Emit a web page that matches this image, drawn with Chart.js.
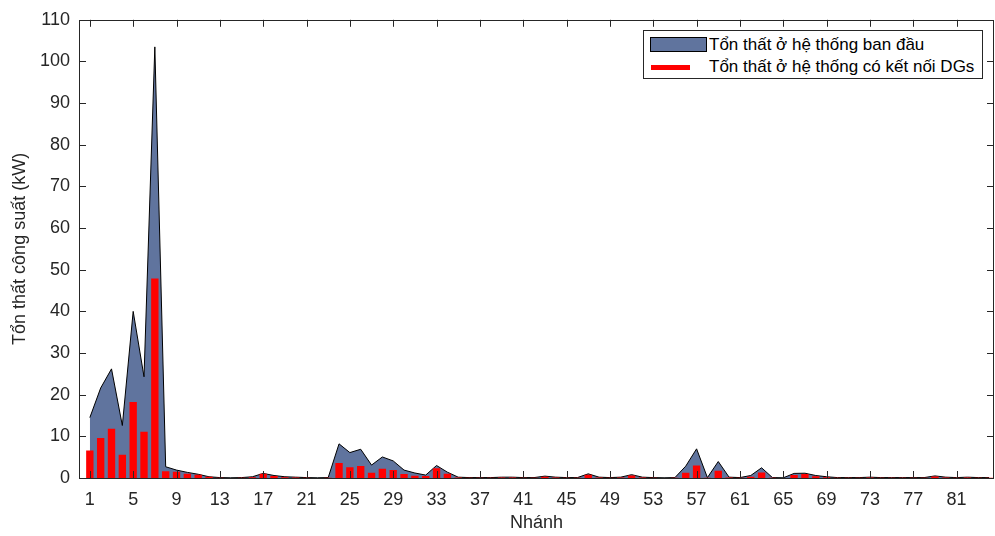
<!DOCTYPE html>
<html>
<head>
<meta charset="utf-8">
<script src="https://cdn.jsdelivr.net/npm/chart.js@4.4.0/dist/chart.umd.min.js"></script>
<style>
  html, body { margin: 0; padding: 0; background: #fff; }
  #wrap { position: relative; width: 995px; height: 536px; }
  #legend {
    position: absolute; left: 643px; top: 30px; width: 340px; height: 49px;
    border: 1px solid #262626; background: #fff; box-sizing: border-box;
    font-family: "Liberation Sans", Arial, sans-serif; font-size: 17px; color: #000;
  }
  .row { position: absolute; left: 0; height: 20px; line-height: 20px; }
  .txt { position: absolute; left: 65px; white-space: nowrap; }
  .patch { position: absolute; left: 6px; top: 2px; width: 57px; height: 15px; background: #60749e; border: 1px solid #000; box-sizing: border-box; }
  .redline { position: absolute; left: 7px; top: 8px; width: 39px; height: 5px; background: #ff0000; }
</style>
</head>
<body>
<div id="wrap">
  <canvas id="lossChart" width="995" height="536"></canvas>
  <div id="legend">
    <div class="row" style="top:4px"><div class="patch"></div><span class="txt">Tổn thất ở hệ thống ban đầu</span></div>
    <div class="row" style="top:26px"><div class="redline"></div><span class="txt">Tổn thất ở hệ thống có kết nối DGs</span></div>
  </div>
</div>
<script>
// Branch losses (kW), branches 1..84
const branches = Array.from({ length: 84 }, (_, i) => i + 1);

const lossBase = [
  14.5, 21.6, 26.2, 12.6, 40.0, 24.3, 103.5, 2.7, 1.9, 1.35,
  0.9, 0.3, 0.1, 0.05, 0.1, 0.3, 1.1, 0.6, 0.3, 0.2,
  0.1, 0.05, 0.1, 8.2, 6.1, 6.9, 3.1, 5.05, 4.1, 1.9,
  1.2, 0.7, 3.0, 1.4, 0.2, 0.1, 0.1, 0.1, 0.2, 0.2,
  0.1, 0.1, 0.45, 0.2, 0.1, 0.1, 1.0, 0.2, 0.1, 0.2,
  0.8, 0.2, 0.1, 0.05, 0.1, 2.85, 7.0, 0.1, 3.95, 0.2,
  0.1, 0.6, 2.45, 0.1, 0.05, 1.1, 1.15, 0.6, 0.3, 0.1,
  0.1, 0.1, 0.2, 0.1, 0.1, 0.1, 0.1, 0.1, 0.5, 0.2,
  0.1, 0.2, 0.1, 0.1
];

const lossDG = [
  6.6, 9.6, 11.8, 5.6, 18.25, 11.1, 47.9, 1.65, 1.5, 1.0,
  0.8, 0.3, 0.05, 0.02, 0.05, 0.2, 1.0, 0.5, 0.2, 0.1,
  0.05, 0.02, 0.05, 3.6, 2.6, 2.9, 1.25, 2.2, 1.9, 0.95,
  0.55, 0.5, 2.35, 1.0, 0.1, 0.05, 0.05, 0.05, 0.15, 0.1,
  0.05, 0.05, 0.3, 0.15, 0.05, 0.05, 0.8, 0.1, 0.05, 0.1,
  0.6, 0.1, 0.05, 0.02, 0.05, 1.26, 3.0, 0.05, 1.75, 0.1,
  0.05, 0.3, 1.35, 0.05, 0.02, 0.7, 0.95, 0.4, 0.2, 0.05,
  0.05, 0.05, 0.1, 0.05, 0.05, 0.05, 0.05, 0.05, 0.35, 0.1,
  0.05, 0.15, 0.05, 0.05
];

const xTicks = [1, 5, 9, 13, 17, 21, 25, 29, 33, 37, 41, 45, 49, 53, 57, 61, 65, 69, 73, 77, 81];
const yTicks = [0, 10, 20, 30, 40, 50, 60, 70, 80, 90, 100, 110];

const axisFont = { family: 'Liberation Sans, Arial, sans-serif', size: 18 };
const titleFont = { family: 'Liberation Sans, Arial, sans-serif', size: 18 };

// frame + inward ticks, MATLAB style
const boxTicks = {
  id: 'boxTicks',
  afterDraw(chart) {
    const { ctx, chartArea: a, scales } = chart;
    ctx.save();
    ctx.strokeStyle = '#262626';
    ctx.lineWidth = 1;
    ctx.beginPath();
    xTicks.forEach(v => {
      const x = Math.round(scales.x.getPixelForValue(v)) + 0.5;
      ctx.moveTo(x, a.bottom); ctx.lineTo(x, a.bottom - 7);
      ctx.moveTo(x, a.top); ctx.lineTo(x, a.top + 7);
    });
    yTicks.forEach(v => {
      const y = Math.round(scales.y.getPixelForValue(v)) + 0.5;
      ctx.moveTo(a.left, y); ctx.lineTo(a.left + 7, y);
      ctx.moveTo(a.right, y); ctx.lineTo(a.right - 7, y);
    });
    ctx.stroke();
    ctx.strokeRect(Math.round(a.left) + 0.5, Math.round(a.top) + 0.5,
      Math.round(a.right - a.left) - 1, Math.round(a.bottom - a.top));
    ctx.restore();
  }
};

new Chart(document.getElementById('lossChart').getContext('2d'), {
  type: 'bar',
  data: {
    datasets: [
      {
        type: 'bar',
        label: 'Tổn thất ở hệ thống có kết nối DGs',
        data: branches.map((b, i) => ({ x: b, y: lossDG[i] })),
        backgroundColor: '#ff0000',
        borderWidth: 0,
        barPercentage: 0.68,
        categoryPercentage: 1,
        order: 0
      },
      {
        type: 'line',
        label: 'Tổn thất ở hệ thống ban đầu',
        data: branches.map((b, i) => ({ x: b, y: lossBase[i] })),
        borderColor: '#000',
        borderWidth: 1,
        backgroundColor: '#60749e',
        fill: 'origin',
        tension: 0,
        pointRadius: 0,
        order: 1
      }
    ]
  },
  options: {
    responsive: false,
    animation: false,
    layout: { padding: { top: 14, right: 1, left: 0, bottom: 0 } },
    plugins: { legend: { display: false }, tooltip: { enabled: false } },
    scales: {
      x: {
        type: 'linear',
        min: 0,
        max: 84.45,
        offset: false,
        grid: { display: false, drawTicks: false },
        border: { display: false },
        afterBuildTicks: s => { s.ticks = xTicks.map(v => ({ value: v })); },
        afterFit: s => { s.height = 58; },
        ticks: { color: '#262626', font: axisFont, padding: 11, maxRotation: 0, autoSkip: false },
        title: { display: true, text: 'Nhánh', color: '#262626', font: titleFont, padding: { top: 0, bottom: 2 } }
      },
      y: {
        min: 0,
        max: 110,
        grid: { display: false, drawTicks: false },
        border: { display: false },
        afterBuildTicks: s => { s.ticks = yTicks.map(v => ({ value: v })); },
        afterFit: s => { s.width = 79; },
        ticks: { color: '#262626', font: axisFont, padding: 9 },
        title: { display: true, text: 'Tổn thất công suất (kW)', color: '#262626', font: titleFont, padding: { top: 9, bottom: 0 } }
      }
    }
  },
  plugins: [boxTicks]
});
</script>
</body>
</html>
